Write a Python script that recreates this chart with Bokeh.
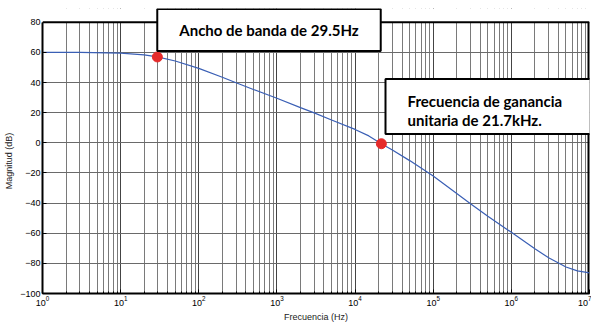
from bokeh.plotting import figure
from bokeh.models import Range1d, Label
from bokeh.embed import file_html
from bokeh.resources import INLINE

# Values
freq_hz = [1, 3, 10, 20, 29.5, 50, 100, 200, 300, 500, 1000, 2000, 3000, 5000,
           1e4, 1.5e4, 21700, 3e4, 5e4, 1e5, 2e5, 3e5, 5e5, 1e6, 2e6, 3e6, 5e6, 7e6, 1e7]
mag_db = [60.0, 60.0, 59.6, 58.4, 57.0, 54.3, 49.4, 43.5, 39.9, 35.4, 29.6, 23.4, 19.9, 15.2,
          8.9, 4.6, -0.6, -4.8, -11.8, -22.0, -33.6, -40.4, -48.7, -59.4, -70.3, -76.3, -82.4, -85.0, -86.3]
marker_hz = [29.5, 21700]
marker_db = [57.0, -0.6]
y_ticks = [-100, -80, -60, -40, -20, 0, 20, 40, 60, 80]
x_lim = [1, 1e7]
label_bw = "Ancho de banda de 29.5Hz"
label_ft = "Frecuencia de ganancia\nunitaria de 21.7kHz."

Y_LO, Y_HI = y_ticks[0], y_ticks[-1]
PX_PER_DB = (297 - 22) / (Y_HI - Y_LO)
Y_TOP = Y_HI + (22 - 8) / PX_PER_DB  # extra headroom so the top box is not clipped

p = figure(width=591, height=324, x_axis_type="log",
           x_range=Range1d(*x_lim), y_range=Range1d(Y_LO, Y_TOP),
           output_backend="svg", toolbar_location=None,
           min_border_left=42, min_border_right=2, min_border_top=8, min_border_bottom=27,
           background_fill_color="white", border_fill_color="white")

p.outline_line_color = None

# grid
p.xgrid.grid_line_color = "#444444"
p.xgrid.grid_line_width = 1
p.xgrid.minor_grid_line_color = "#7a7a7a"
p.xgrid.minor_grid_line_width = 1
p.ygrid.grid_line_color = "#6a6a6a"
p.ygrid.ticker = y_ticks

# axes
p.yaxis.ticker = y_ticks
p.yaxis.bounds = (Y_LO, Y_HI)
for ax in (p.xaxis[0], p.yaxis[0]):
    ax.axis_line_color = "black"
    ax.axis_line_width = 2
    ax.major_tick_in = 4
    ax.major_tick_out = 0
    ax.minor_tick_in = 2
    ax.minor_tick_out = 0
    ax.major_label_text_font = "Liberation Sans"
    ax.major_label_text_font_size = "9px"
    ax.major_label_text_color = "black"
    ax.axis_label_text_font = "Liberation Sans"
    ax.axis_label_text_font_size = "9px"
    ax.axis_label_text_font_style = "normal"
    ax.axis_label_text_color = "#222222"
    ax.major_label_standoff = 2
    ax.axis_label_standoff = 3
p.yaxis.minor_tick_line_color = None
p.xaxis.axis_label = "Frecuencia (Hz)"
p.yaxis.axis_label = "Magnitud (dB)" + "\u00a0" * 8

# mask the grid above the top of the axes box, then draw the box's top / right edges
p.quad(left=[x_lim[0]], right=[x_lim[1]], bottom=[Y_HI], top=[Y_TOP],
       fill_color="white", line_color=None)
p.line(x_lim, [Y_HI, Y_HI], line_color="black", line_width=2)
p.line([x_lim[1], x_lim[1]], [Y_LO, Y_HI], line_color="black", line_width=4)

p.line(freq_hz, mag_db, line_color="#3a5fb5", line_width=1.2)
p.scatter(marker_hz, marker_db, size=10, fill_color="#e52b2b", line_color="#e52b2b")

lab1 = Label(x=268.5, y=29.5, x_units="canvas", y_units="canvas",
             text=label_bw, text_align="center", text_baseline="middle",
             text_font="Lato", text_font_style="bold", text_font_size="15px",
             text_color="black", border_line_color="black", border_line_width=2,
             background_fill_color="white",
             padding=dict(left=22, right=22, top=12, bottom=12))
lab2 = Label(x=385, y=106, x_units="canvas", y_units="canvas",
             text=label_ft, text_align="left", text_baseline="middle",
             text_font="Lato", text_font_style="bold", text_font_size="15px",
             text_line_height=1.05,
             text_color="black", border_line_color="black", border_line_width=2,
             background_fill_color="white",
             padding=dict(left=22, right=48, top=13, bottom=5))
p.add_layout(lab1)
p.add_layout(lab2)

open("out.html", "w").write(file_html(p, INLINE))
